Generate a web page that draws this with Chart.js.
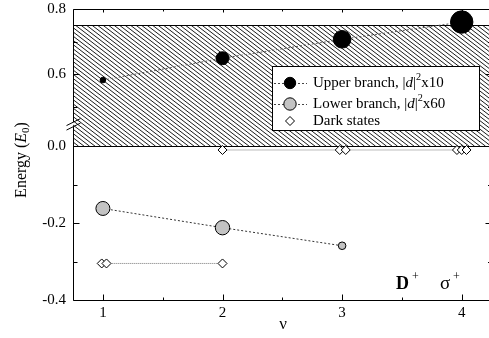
<!DOCTYPE html>
<html>
<head>
<meta charset="utf-8">
<script src="https://cdn.jsdelivr.net/npm/chart.js@4"></script>
<style>
  html, body { margin: 0; overflow: hidden; background: #fff; }
</style>
</head>
<body>
<canvas id="myChart" width="489" height="338"></canvas>
<script>
// values
var nu = [1, 2, 3, 4];
var upperE = [0.582, 0.649, 0.707, 0.76];
var lowerNu = [1, 2, 3];
var lowerE = [-0.162, -0.212, -0.259];
var darkLowNu = [0.99, 1.03, 2];
var darkLowE = [-0.305, -0.305, -0.305];
var darkTopNu = [2, 2.98, 3.03, 3.96, 4.0, 4.04];
var darkTopE = [-0.01, -0.01, -0.01, -0.01, -0.01, -0.01];
var xTicks = [1, 2, 3, 4];
var xMinor = [1.5, 2.5, 3.5];
var yTicks = [0.8, 0.6, 0.0, -0.2, -0.4];
var yMinor = [0.7, 0.5, -0.1, -0.3];
var bandTop = 0.75, bandBottom = 0.0;
var xFrameEnd = 4.245; // right frame sits just past the picture edge

// axis break: lower part goes up to 0.06, upper part starts at 0.45
var breakLow = 0.06, breakHigh = 0.45, lowShare = 0.608;
var serif = '"Liberation Serif", "Times New Roman", serif';

class BrokenScale extends Chart.LinearScale {
  breakPixel() {
    return this.bottom - (this.bottom - this.top) * lowShare;
  }
  getPixelForValue(v) {
    var bp = this.breakPixel();
    if (v <= breakLow) {
      return this.bottom - (v - this.min) / (breakLow - this.min) * (this.bottom - bp);
    }
    return bp - (v - breakHigh) / (this.max - breakHigh) * (bp - this.top);
  }
  getValueForPixel(p) {
    var bp = this.breakPixel();
    if (p >= bp) return this.min + (this.bottom - p) / (this.bottom - bp) * (breakLow - this.min);
    return breakHigh + (bp - p) / (bp - this.top) * (this.max - breakHigh);
  }
}
BrokenScale.id = 'broken';
BrokenScale.defaults = Chart.LinearScale.defaults;
Chart.register(BrokenScale);

function pts(xs, ys) {
  return xs.map(function(x, i) { return {x: x, y: ys[i]}; });
}

// draw a run of text pieces, returns width
function rich(ctx, parts, x, y, size, measureOnly) {
  var w = 0;
  parts.forEach(function(p) {
    var s = p.small ? size * 0.68 : size;
    ctx.font = (p.bold ? 'bold ' : '') + (p.italic ? 'italic ' : '') + s + 'px ' + serif;
    var dy = p.sup ? -size * 0.38 : (p.sub ? size * 0.25 : 0);
    if (!measureOnly) ctx.fillText(p.t, x + w, y + dy);
    w += ctx.measureText(p.t).width;
  });
  return w;
}

var figPlugin = {
  id: 'fig',
  beforeDatasetsDraw: function(chart) {
    var ctx = chart.ctx, x = chart.scales.x, y = chart.scales.y;
    var top = y.getPixelForValue(bandTop), bot = y.getPixelForValue(bandBottom);
    ctx.save();
    ctx.beginPath();
    ctx.rect(x.left, top, x.right - x.left, bot - top);
    ctx.clip();
    ctx.strokeStyle = '#000';
    ctx.lineWidth = 0.9;
    var h = bot - top, slope = 0.77, step = 5.5;
    ctx.beginPath();
    for (var sx = x.left - h / slope; sx < x.right; sx += step) {
      ctx.moveTo(sx, top);
      ctx.lineTo(sx + h / slope, bot);
    }
    ctx.stroke();
    ctx.restore();
    ctx.save();
    ctx.strokeStyle = '#000';
    ctx.lineWidth = 1;
    ctx.beginPath();
    ctx.moveTo(x.left, Math.round(top) + 0.5); ctx.lineTo(x.right, Math.round(top) + 0.5);
    ctx.moveTo(x.left, Math.round(bot) + 0.5); ctx.lineTo(x.right, Math.round(bot) + 0.5);
    ctx.stroke();
    ctx.restore();
  },
  afterDatasetsDraw: function(chart) {
    // legend box
    var ctx = chart.ctx;
    var L = 272, T = 66, R = 479, B = 130;
    ctx.save();
    ctx.fillStyle = '#fff';
    ctx.fillRect(L, T, R - L, B - T);
    ctx.strokeStyle = '#000';
    ctx.lineWidth = 1;
    ctx.strokeRect(L + 0.5, T + 0.5, R - L, B - T);
    var rows = [
      {y: 83, fill: '#000', r: 5.7, line: true, parts: [{t: 'Upper branch, |'}, {t: 'd', italic: true}, {t: '|'}, {t: '2', small: true, sup: true}, {t: 'x10'}]},
      {y: 104, fill: '#c3c3c3', r: 6.2, line: true, parts: [{t: 'Lower branch, |'}, {t: 'd', italic: true}, {t: '|'}, {t: '2', small: true, sup: true}, {t: 'x60'}]},
      {y: 121, fill: '#fff', r: 4.5, diamond: true, parts: [{t: 'Dark states'}]}
    ];
    rows.forEach(function(row) {
      if (row.line) {
        ctx.save();
        ctx.setLineDash([2, 2]);
        ctx.strokeStyle = '#444';
        ctx.beginPath();
        ctx.moveTo(274, row.y + 0.5); ctx.lineTo(307, row.y + 0.5);
        ctx.stroke();
        ctx.restore();
      }
      ctx.beginPath();
      if (row.diamond) {
        ctx.moveTo(290 - row.r, row.y); ctx.lineTo(290, row.y - row.r);
        ctx.lineTo(290 + row.r, row.y); ctx.lineTo(290, row.y + row.r);
        ctx.closePath();
      } else {
        ctx.arc(290, row.y, row.r, 0, Math.PI * 2);
      }
      ctx.fillStyle = row.fill;
      ctx.fill();
      ctx.strokeStyle = '#000';
      ctx.stroke();
      ctx.fillStyle = '#000';
      ctx.textBaseline = 'middle';
      ctx.textAlign = 'left';
      rich(ctx, row.parts, 313, row.y, 15);
    });
    ctx.restore();
  },
  afterDraw: function(chart) {
    var ctx = chart.ctx, x = chart.scales.x, y = chart.scales.y;
    var l = x.left + 0.5, r = Math.round(x.getPixelForValue(xFrameEnd)) + 0.5;
    var t = y.top + 0.5, b = y.bottom + 0.5;
    var bp = y.breakPixel();
    ctx.save();
    ctx.strokeStyle = '#000';
    ctx.lineWidth = 1;
    ctx.beginPath();
    // frame, left side broken
    ctx.moveTo(l, t); ctx.lineTo(r, t); ctx.lineTo(r, b); ctx.lineTo(l, b);
    ctx.lineTo(l, bp + 3.5);
    ctx.moveTo(l, bp - 1); ctx.lineTo(l, t);
    // ticks
    xTicks.forEach(function(v) {
      var px = Math.round(x.getPixelForValue(v)) + 0.5;
      ctx.moveTo(px, b); ctx.lineTo(px, b - 6);
      ctx.moveTo(px, t); ctx.lineTo(px, t + 3);
    });
    xMinor.forEach(function(v) {
      var px = Math.round(x.getPixelForValue(v)) + 0.5;
      ctx.moveTo(px, b); ctx.lineTo(px, b - 3);
      ctx.moveTo(px, t); ctx.lineTo(px, t + 2);
    });
    yTicks.forEach(function(v) {
      var py = Math.round(y.getPixelForValue(v)) + 0.5;
      ctx.moveTo(l, py); ctx.lineTo(l + 6, py);
      ctx.moveTo(r, py); ctx.lineTo(r - 6, py);
    });
    yMinor.forEach(function(v) {
      var py = Math.round(y.getPixelForValue(v)) + 0.5;
      ctx.moveTo(l, py); ctx.lineTo(l + 4, py);
      ctx.moveTo(r, py); ctx.lineTo(r - 3.5, py);
    });
    ctx.stroke();
    // break marks
    ctx.beginPath();
    ctx.moveTo(l - 7, bp + 2.5); ctx.lineTo(l + 7, bp - 4.5);
    ctx.moveTo(l - 7, bp + 7); ctx.lineTo(l + 7, bp);
    ctx.stroke();

    // tick labels
    ctx.fillStyle = '#000';
    ctx.font = '15px ' + serif;
    ctx.textAlign = 'center';
    ctx.textBaseline = 'middle';
    xTicks.forEach(function(v) {
      ctx.fillText(String(v), x.getPixelForValue(v), 313);
    });
    ctx.textAlign = 'right';
    yTicks.forEach(function(v) {
      ctx.fillText(v.toFixed(1), x.left - 7, y.getPixelForValue(v));
    });

    // axis titles
    ctx.textAlign = 'left';
    ctx.save();
    ctx.translate(22, 160);
    ctx.rotate(-Math.PI / 2);
    var yTitle = [{t: 'Energy ('}, {t: 'E', italic: true}, {t: '0', small: true, sub: true}, {t: ')'}];
    var w = rich(ctx, yTitle, 0, 0, 16, true);
    rich(ctx, yTitle, -w / 2, 0, 16);
    ctx.restore();
    ctx.font = '17px ' + serif;
    ctx.textAlign = 'center';
    ctx.fillText('ν', 283, 325);

    // panel labels
    ctx.textAlign = 'left';
    ctx.textBaseline = 'alphabetic';
    rich(ctx, [{t: 'D', bold: true}], 396, 289, 18);
    ctx.font = '12px ' + serif;
    ctx.fillText('+', 412, 280);
    ctx.font = '19px ' + serif;
    ctx.fillText('σ', 440, 289);
    ctx.font = '12px ' + serif;
    ctx.fillText('+', 453, 280);
    ctx.restore();
  }
};

var ctx = document.getElementById('myChart').getContext('2d');
var myChart = new Chart(ctx, {
  type: 'scatter',
  data: {
    datasets: [
      {
        label: 'Dark states',
        data: pts(darkLowNu, darkLowE),
        showLine: true,
        borderColor: '#777',
        borderWidth: 1,
        borderDash: [1, 1],
        pointStyle: 'rectRot',
        pointRadius: 4.5,
        pointBackgroundColor: '#fff',
        pointBorderColor: '#000',
        pointBorderWidth: 1
      },
      {
        label: 'Dark states',
        data: pts(darkTopNu, darkTopE),
        showLine: true,
        borderColor: '#777',
        borderWidth: 1,
        borderDash: [1, 1],
        pointStyle: 'rectRot',
        pointRadius: 4.5,
        pointBackgroundColor: '#fff',
        pointBorderColor: '#000',
        pointBorderWidth: 1
      },
      {
        label: 'Lower branch',
        data: pts(lowerNu, lowerE),
        showLine: true,
        borderColor: '#333',
        borderWidth: 1,
        borderDash: [2, 2],
        pointRadius: [7, 7.2, 3.8],
        pointBackgroundColor: '#c3c3c3',
        pointBorderColor: '#000',
        pointBorderWidth: 1
      },
      {
        label: 'Upper branch',
        data: pts(nu, upperE),
        showLine: true,
        borderColor: '#555',
        borderWidth: 1,
        borderDash: [2, 2],
        pointRadius: [2.8, 6.5, 8.8, 11.2],
        pointBackgroundColor: '#000',
        pointBorderColor: '#000',
        pointBorderWidth: 1
      }
    ]
  },
  options: {
    responsive: false,
    animation: false,
    events: [],
    layout: { autoPadding: false, padding: { left: 73, top: 9, right: 0, bottom: 38 } },
    plugins: { legend: { display: false }, tooltip: { enabled: false } },
    scales: {
      x: { type: 'linear', min: 0.75, max: 4.228, display: false },
      y: { type: 'broken', min: -0.4, max: 0.8, display: false }
    }
  },
  plugins: [figPlugin]
});
</script>
</body>
</html>
